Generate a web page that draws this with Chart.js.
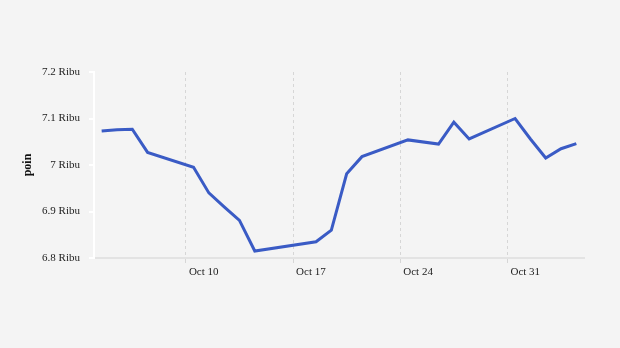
<!DOCTYPE html>
<html>
<head>
<meta charset="utf-8">
<script src="https://cdn.jsdelivr.net/npm/chart.js@4"></script>
<style>
  html, body { margin: 0; padding: 0; background: #f4f4f4; }
  #wrap { width: 620px; height: 348px; }
</style>
</head>
<body>
<div id="wrap"><canvas id="chart" width="620" height="348"></canvas></div>
<script>
// day of October (32+ = November), plotted at midday
const days = [4, 5, 6, 7, 10, 11, 12, 13, 14, 18, 19, 20, 21, 24, 26, 27, 28, 31, 32, 33, 34, 35];
const values = [7073, 7076, 7077, 7027, 6995, 6940, 6910, 6881, 6815, 6835, 6860, 6981, 7018,
    7054, 7045, 7092, 7056, 7100, 7056, 7015, 7035, 7046];
const tickDays = [10, 17, 24, 31];
const tickLabels = ["Oct 10", "Oct 17", "Oct 24", "Oct 31"];

const points = days.map((d, i) => ({ x: d + 0.5, y: values[i] }));
const font = { family: "'Liberation Serif', serif", size: 11 };

const ctx = document.getElementById("chart").getContext("2d");
const chart = new Chart(ctx, {
    type: "line",
    data: {
        datasets: [
            {
                data: points,
                borderColor: "#3a5bc5",
                borderWidth: 3,
                pointRadius: 0,
                tension: 0,
                fill: false
            }
        ]
    },
    options: {
        responsive: false,
        animation: false,
        layout: { padding: { top: 72, bottom: 60, left: 17, right: 36 } },
        plugins: { legend: { display: false }, tooltip: { enabled: false } },
        scales: {
            x: {
                type: "linear",
                min: 4,
                max: 36,
                afterBuildTicks: (scale) => {
                    scale.ticks = tickDays.map(v => ({ value: v }));
                },
                afterFit: (scale) => { scale.height = 30; },
                ticks: {
                    color: "#222",
                    font: font,
                    align: "start",
                    labelOffset: 3,
                    padding: 3,
                    maxRotation: 0,
                    callback: (v) => tickLabels[tickDays.indexOf(v)]
                },
                grid: {
                    color: "#d6d6d6",
                    tickLength: 5,
                    drawOnChartArea: true
                },
                border: { color: "#e3e3e3", width: 2, dash: [3, 3] }
            },
            y: {
                min: 6800,
                max: 7200,
                afterFit: (scale) => { scale.width = 77; },
                ticks: {
                    stepSize: 100,
                    color: "#222",
                    font: font,
                    padding: 9,
                    callback: (v) => (v / 1000).toFixed(1).replace(/\.0$/, "") + " Ribu"
                },
                grid: {
                    drawOnChartArea: false,
                    color: "#ffffff",
                    lineWidth: 2,
                    tickLength: 5
                },
                border: { color: "#ffffff", width: 2 },
                title: {
                    display: true,
                    text: "poin",
                    color: "#111",
                    font: { family: "'Liberation Serif', serif", size: 12, weight: "bold" }
                }
            }
        }
    }
});
</script>
</body>
</html>
